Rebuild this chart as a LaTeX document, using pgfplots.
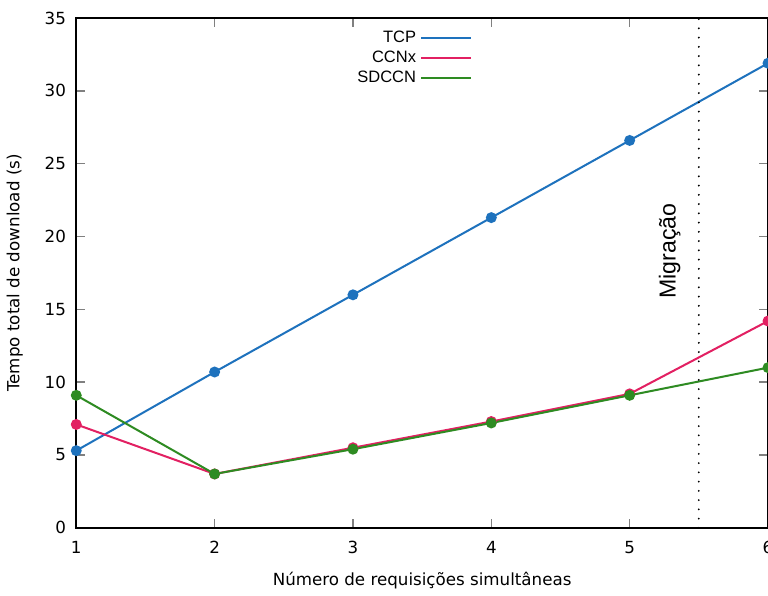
\documentclass[border=0pt]{standalone}
\usepackage{pgfplots}
\pgfplotsset{compat=1.18}
\usepackage{fontspec}
\setmainfont{DejaVu Sans}
\newfontfamily\arialfont{Liberation Sans}
\definecolor{tcpcolor}{RGB}{30,114,189}
\definecolor{ccnxcolor}{RGB}{226,32,98}
\definecolor{sdccncolor}{RGB}{46,139,34}
\begin{document}
\begin{tikzpicture}[trim axis right]
\begin{axis}[
  scale only axis,
  width=344pt, height=253.5pt,
  xmin=1, xmax=6, ymin=0, ymax=35,
  xtick={1,2,3,4,5,6},
  ytick={0,5,10,15,20,25,30,35},
  tick align=inside,
  axis line style={line width=0.9pt},
  major tick style={line width=0.7pt},
  font=\fontsize{8.3}{10}\selectfont,
  /pgf/number format/assume math mode=true,
  xticklabel style={yshift=-3pt},
  yticklabel style={xshift=-1.6pt},
  xlabel={Número de requisições simultâneas},
  ylabel={Tempo total de download (s)},
  xlabel style={yshift=-2.5pt},
  ylabel style={yshift=4pt},
  legend style={draw=none, fill=none, at={(0.582,0.992)}, anchor=north east,
    font=\arialfont\fontsize{8.2}{10}\selectfont, row sep=-1.2pt},
  legend cell align=right,
  legend plot pos=right,
  legend image code/.code={\draw[#1] (0cm,0cm) -- (0.88cm,0cm);},
]
\addplot[color=tcpcolor, line width=1pt, mark=*, mark size=2.2pt] coordinates {
  (1,5.3) (2,10.7) (3,16.0) (4,21.3) (5,26.6) (6,31.9)
};
\addlegendentry{TCP}
\addplot[color=ccnxcolor, line width=1pt, mark=*, mark size=2.2pt] coordinates {
  (1,7.1) (2,3.7) (3,5.5) (4,7.3) (5,9.2) (6,14.2)
};
\addlegendentry{CCNx}
\addplot[color=sdccncolor, line width=1pt, mark=*, mark size=2.2pt] coordinates {
  (1,9.1) (2,3.7) (3,5.4) (4,7.2) (5,9.1) (6,11.0)
};
\addlegendentry{SDCCN}
\addplot[black, line width=1pt, dash pattern=on 0pt off 4.6pt, line cap=round, forget plot] coordinates {
  (5.5,0) (5.5,35)
};
\node[rotate=90, font=\arialfont\fontsize{11.5}{13}\selectfont] at (axis cs:5.29,19) {Migração};
\end{axis}
\path ([yshift=9pt]current axis.north west);
\end{tikzpicture}
\end{document}
